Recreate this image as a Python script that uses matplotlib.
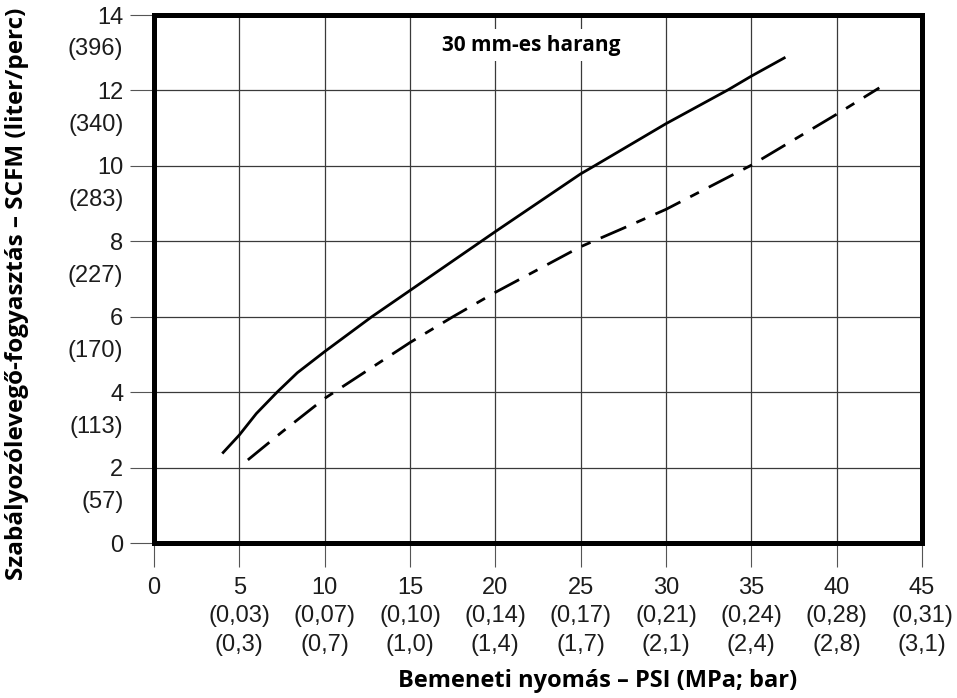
import matplotlib
matplotlib.use('Agg')
import matplotlib.pyplot as plt

# solid curve (upper) and dash-dot curve (lower), PSI vs SCFM
solid_psi = [4.0, 5.0, 6.0, 7.2, 8.4, 10.0, 12.75, 15.0, 20.0, 25.0, 25.8, 30.0, 33.65, 35.0, 37.0]
solid_scfm = [2.38, 2.87, 3.44, 4.0, 4.52, 5.08, 6.0, 6.70, 8.26, 9.79, 10.0, 11.12, 12.02, 12.38, 12.88]
dash_psi = [5.5, 7.5, 10.0, 15.0, 17.5, 20.0, 25.0, 27.5, 30.0, 35.0, 40.0, 42.5]
dash_scfm = [2.21, 2.95, 3.84, 5.32, 6.0, 6.65, 7.86, 8.35, 8.85, 10.02, 11.37, 12.07]

x_ticks = [0, 5, 10, 15, 20, 25, 30, 35, 40, 45]
x_mpa = ['', '0,03', '0,07', '0,10', '0,14', '0,17', '0,21', '0,24', '0,28', '0,31']
x_bar = ['', '0,3', '0,7', '1,0', '1,4', '1,7', '2,1', '2,4', '2,8', '3,1']
y_ticks = [0, 2, 4, 6, 8, 10, 12, 14]
y_lpm = ['', '57', '113', '170', '227', '283', '340', '396']

title = '30 mm-es harang'
xlabel = 'Bemeneti nyomás – PSI (MPa; bar)'
ylabel = 'Szabályozólevegő-fogyasztás – SCFM (liter/perc)'

tick_font = 'Liberation Sans'
bold_font = 'Open Sans'

fig = plt.figure(figsize=(9.57, 6.98), dpi=100)
ax = fig.add_axes([0.1609, 0.2216, 0.8025, 0.7569])

ax.set_xlim(0, 45)
ax.set_ylim(0, 14)

ax.plot(solid_psi, solid_scfm, color='black', lw=2.0, solid_capstyle='butt', zorder=3)
ax.plot(dash_psi, dash_scfm, color='black', lw=2.0, linestyle=(0, (10, 4, 3.5, 4)),
        dash_capstyle='butt', zorder=3)

ax.grid(True, color='#3a3a3a', lw=0.9)
ax.set_axisbelow(True)

for s in ax.spines.values():
    s.set_linewidth(3.6)
    s.set_color('black')
    s.set_zorder(4)

# x tick labels: psi / MPa / bar
ax.set_xticks(x_ticks)
xlabels = []
for v, m, b in zip(x_ticks, x_mpa, x_bar):
    xlabels.append(str(v) if m == '' else f'{v}\n({m})\n({b})')
ax.set_xticklabels(xlabels, fontfamily=tick_font, fontsize=17, color='#1c1c1c', linespacing=1.4)

# y tick labels: scfm, with l/min on minor ticks just below
ax.set_yticks(y_ticks)
ax.set_yticklabels([str(v) for v in y_ticks], fontfamily=tick_font, fontsize=17, color='#1c1c1c')
minor_pos = [v - 0.84 for v, l in zip(y_ticks, y_lpm) if l]
ax.set_yticks(minor_pos, minor=True)
ax.set_yticklabels([f'({l})' for l in y_lpm if l], minor=True,
                   fontfamily=tick_font, fontsize=17, color='#1c1c1c')

ax.tick_params(axis='both', which='major', length=17, width=0.8, color='#555555', pad=5)
ax.tick_params(axis='y', which='minor', length=0, pad=22)
ax.tick_params(axis='x', which='major', pad=7)

ax.text(22.1, 13.2, title, ha='center', va='center', fontfamily=bold_font,
        fontweight='bold', fontsize=15,
        bbox=dict(facecolor='white', edgecolor='none', pad=4), zorder=5)

fig.text(0.624, 0.0158, xlabel, ha='center', va='baseline', fontfamily=bold_font,
         fontweight='bold', fontsize=17)
fig.text(0.018, 0.579, ylabel, ha='center', va='center', rotation=90,
         fontfamily=bold_font, fontweight='bold', fontsize=17.5)

fig.savefig('out.png', dpi=100, facecolor='white')
